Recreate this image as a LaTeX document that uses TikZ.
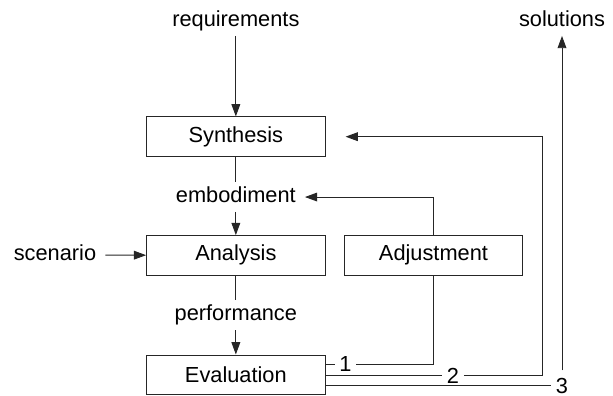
\documentclass[tikz,border=0pt]{standalone}
\usepackage{fontspec}
\setmainfont{Liberation Sans}
\usetikzlibrary{arrows.meta}
\tikzset{
  block/.style = {draw = black!85, line width = 0.55pt, minimum width = 3.57cm, minimum height = 0.79cm, inner sep = 0pt},
  tag/.style = {inner xsep = 5pt, inner ysep = 2.5pt, text height = 9pt, text depth = 2.6pt},
  num/.style = {inner xsep = 2.5pt, inner ysep = 4pt, text height = 8.9pt, text depth = 0pt},
  wire/.style = {draw = black!85, line width = 0.55pt},
  flow/.style = {wire, -{Triangle[length = 7pt, width = 5pt]}}
}
\begin{document}
\begin{tikzpicture}[font = \fontsize{12.4}{15}\selectfont]
\useasboundingbox (0,0) rectangle (12.26,7.92);
% boxes
\node[block] (synthesis) at (4.717,5.186) {Synthesis};
\node[block] (analysis) at (4.717,2.813) {Analysis};
\node[block] (evaluation) at (4.717,0.425) {Evaluation};
\node[block] (adjustment) at (8.67,2.813) {Adjustment};
% texts
\node[tag] (requirements) at (4.717,7.5) {requirements};
\node[tag] (solutions) at (11.24,7.5) {solutions};
\node[tag] (embodiment) at (4.717,3.979) {embodiment};
\node[tag] (performance) at (4.717,1.613) {performance};
\node[tag] (scenario) at (1.1,2.819) {scenario};
\node[num] (n1) at (6.91,0.64) {1};
\node[num] (n2) at (9.06,0.41) {2};
\node[num] (n3) at (11.24,0.21) {3};
\coordinate (turn) at (10.84,5.186);
\coordinate (back) at ([xshift=0.4cm]synthesis.east);
% main chain
\draw[flow] (requirements) -- (synthesis);
\draw[wire] (synthesis) -- (embodiment);
\draw[flow] (embodiment) -- (analysis);
\draw[flow] (scenario) -- (analysis);
\draw[wire] (analysis) -- (performance);
\draw[flow] (performance) -- (evaluation);
\draw[flow] (adjustment.north) |- (embodiment.east);
% outcomes
\draw[wire] (evaluation.east |- n1) -- (n1);
\draw[wire] (n1) -| (adjustment.south);
\draw[wire] (evaluation.east |- n2) -- (n2);
\draw[flow] (n2) -| (turn) -- (back);
\draw[wire] (evaluation.east |- n3) -- (n3);
\draw[flow] (n3) -- (solutions);
\end{tikzpicture}
\end{document}
